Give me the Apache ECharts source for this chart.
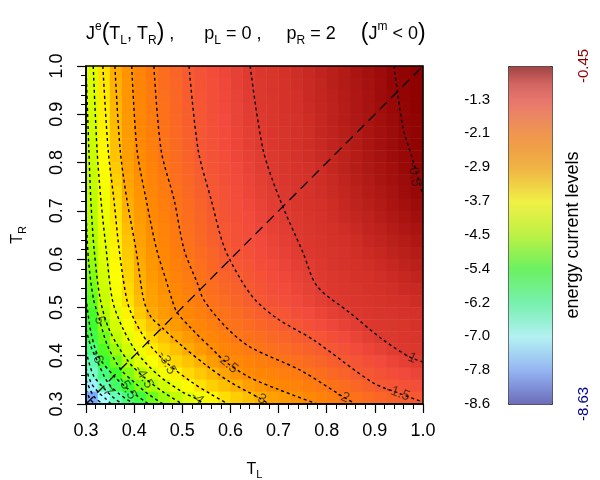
<!DOCTYPE html>
<html>
<head>
<meta charset="utf-8">
<script src="https://cdn.jsdelivr.net/npm/echarts@6/dist/echarts.min.js"></script>
<style>
  html, body { margin: 0; padding: 0; background: #fff; }
  #chart { width: 600px; height: 480px; }
</style>
</head>
<body>
<div id="chart"></div>
<script>
// heat map cell centres: T_L along x, T_R along y (ascending)
const tlCenters = [0.3125, 0.3375, 0.3625, 0.3875, 0.4125, 0.4375, 0.4625, 0.4875, 0.5125, 0.5375,
  0.5625, 0.5875, 0.6125, 0.6375, 0.6625, 0.6875, 0.7125, 0.7375, 0.7625, 0.7875,
  0.8125, 0.8375, 0.8625, 0.8875, 0.9125, 0.9375, 0.9625, 0.9875];
const trCenters = [0.3125, 0.3375, 0.3625, 0.3875, 0.4125, 0.4375, 0.4625, 0.4875, 0.5125, 0.5375,
  0.5625, 0.5875, 0.6125, 0.6375, 0.6625, 0.6875, 0.7125, 0.7375, 0.7625, 0.7875,
  0.8125, 0.8375, 0.8625, 0.8875, 0.9125, 0.9375, 0.9625, 0.9875];

// J^e, one row per T_R, top row (T_R = 0.9875) first
const jeRows = [
  [-4.10, -3.47, -2.98, -2.62, -2.32, -2.05, -1.86, -1.69, -1.52, -1.41, -1.32, -1.22, -1.12, -1.02, -0.97, -0.93, -0.88, -0.84, -0.80, -0.76, -0.72, -0.68, -0.63, -0.59, -0.55, -0.51, -0.48, -0.46],
  [-4.13, -3.50, -3.01, -2.64, -2.34, -2.07, -1.87, -1.71, -1.54, -1.43, -1.33, -1.23, -1.13, -1.03, -0.98, -0.93, -0.89, -0.85, -0.81, -0.77, -0.72, -0.68, -0.64, -0.60, -0.56, -0.51, -0.49, -0.47],
  [-4.16, -3.53, -3.04, -2.66, -2.36, -2.09, -1.89, -1.72, -1.55, -1.44, -1.34, -1.24, -1.15, -1.05, -0.98, -0.94, -0.90, -0.86, -0.81, -0.77, -0.73, -0.69, -0.65, -0.61, -0.56, -0.52, -0.49, -0.47],
  [-4.20, -3.57, -3.07, -2.69, -2.38, -2.12, -1.91, -1.74, -1.57, -1.45, -1.35, -1.26, -1.16, -1.06, -0.99, -0.95, -0.90, -0.86, -0.82, -0.78, -0.74, -0.70, -0.65, -0.61, -0.57, -0.53, -0.50, -0.47],
  [-4.23, -3.60, -3.10, -2.71, -2.39, -2.14, -1.92, -1.76, -1.59, -1.46, -1.36, -1.27, -1.17, -1.07, -1.00, -0.95, -0.91, -0.87, -0.83, -0.79, -0.74, -0.70, -0.66, -0.62, -0.58, -0.54, -0.50, -0.48],
  [-4.26, -3.63, -3.13, -2.73, -2.41, -2.16, -1.94, -1.77, -1.60, -1.47, -1.37, -1.28, -1.19, -1.09, -1.01, -0.96, -0.92, -0.88, -0.84, -0.79, -0.75, -0.71, -0.67, -0.63, -0.59, -0.55, -0.51, -0.48],
  [-4.29, -3.66, -3.16, -2.75, -2.43, -2.18, -1.95, -1.79, -1.62, -1.48, -1.39, -1.29, -1.20, -1.10, -1.02, -0.97, -0.92, -0.88, -0.84, -0.80, -0.76, -0.72, -0.68, -0.63, -0.59, -0.55, -0.51, -0.48],
  [-4.33, -3.71, -3.20, -2.79, -2.47, -2.21, -1.98, -1.82, -1.65, -1.50, -1.40, -1.31, -1.22, -1.13, -1.04, -0.98, -0.93, -0.89, -0.85, -0.81, -0.77, -0.73, -0.69, -0.64, -0.60, -0.56, -0.52, -0.49],
  [-4.36, -3.75, -3.26, -2.84, -2.52, -2.26, -2.03, -1.86, -1.69, -1.54, -1.43, -1.34, -1.25, -1.15, -1.06, -1.00, -0.95, -0.91, -0.87, -0.83, -0.78, -0.74, -0.70, -0.66, -0.62, -0.58, -0.53, -0.50],
  [-4.39, -3.80, -3.32, -2.89, -2.58, -2.31, -2.08, -1.89, -1.73, -1.58, -1.45, -1.36, -1.28, -1.18, -1.09, -1.02, -0.96, -0.92, -0.88, -0.84, -0.80, -0.76, -0.71, -0.67, -0.63, -0.59, -0.55, -0.51],
  [-4.42, -3.85, -3.38, -2.94, -2.63, -2.35, -2.12, -1.93, -1.77, -1.62, -1.48, -1.39, -1.30, -1.21, -1.12, -1.04, -0.98, -0.94, -0.89, -0.85, -0.81, -0.77, -0.73, -0.69, -0.65, -0.61, -0.56, -0.52],
  [-4.46, -3.90, -3.44, -3.00, -2.69, -2.40, -2.17, -1.97, -1.81, -1.66, -1.51, -1.41, -1.33, -1.24, -1.15, -1.06, -1.00, -0.95, -0.91, -0.87, -0.83, -0.79, -0.75, -0.71, -0.67, -0.63, -0.59, -0.55],
  [-4.51, -3.95, -3.49, -3.06, -2.74, -2.46, -2.22, -2.02, -1.85, -1.70, -1.55, -1.43, -1.35, -1.27, -1.18, -1.10, -1.03, -0.98, -0.93, -0.89, -0.85, -0.81, -0.77, -0.74, -0.70, -0.66, -0.62, -0.58],
  [-4.56, -4.00, -3.54, -3.13, -2.80, -2.51, -2.27, -2.06, -1.88, -1.73, -1.58, -1.46, -1.38, -1.30, -1.22, -1.13, -1.06, -1.00, -0.95, -0.91, -0.88, -0.84, -0.80, -0.76, -0.73, -0.69, -0.65, -0.62],
  [-4.61, -4.05, -3.59, -3.19, -2.86, -2.57, -2.32, -2.11, -1.92, -1.77, -1.62, -1.48, -1.40, -1.33, -1.25, -1.17, -1.10, -1.02, -0.97, -0.93, -0.90, -0.86, -0.83, -0.79, -0.76, -0.72, -0.69, -0.65],
  [-4.68, -4.11, -3.64, -3.25, -2.91, -2.63, -2.38, -2.16, -1.97, -1.82, -1.67, -1.52, -1.44, -1.36, -1.28, -1.20, -1.13, -1.05, -0.99, -0.96, -0.92, -0.89, -0.85, -0.82, -0.79, -0.75, -0.72, -0.69],
  [-4.79, -4.17, -3.70, -3.31, -2.96, -2.68, -2.44, -2.23, -2.04, -1.88, -1.73, -1.59, -1.50, -1.42, -1.33, -1.25, -1.18, -1.10, -1.04, -0.99, -0.94, -0.91, -0.88, -0.85, -0.82, -0.79, -0.75, -0.72],
  [-4.90, -4.23, -3.76, -3.36, -3.01, -2.74, -2.51, -2.30, -2.11, -1.94, -1.80, -1.66, -1.57, -1.47, -1.38, -1.30, -1.23, -1.15, -1.08, -1.02, -0.97, -0.93, -0.90, -0.88, -0.85, -0.82, -0.79, -0.76],
  [-5.01, -4.29, -3.82, -3.41, -3.06, -2.80, -2.58, -2.38, -2.19, -2.00, -1.86, -1.74, -1.63, -1.52, -1.43, -1.35, -1.28, -1.20, -1.12, -1.05, -0.99, -0.96, -0.93, -0.90, -0.88, -0.85, -0.82, -0.80],
  [-5.13, -4.37, -3.90, -3.48, -3.12, -2.86, -2.65, -2.45, -2.26, -2.07, -1.93, -1.81, -1.70, -1.58, -1.48, -1.40, -1.33, -1.25, -1.17, -1.09, -1.02, -0.98, -0.96, -0.93, -0.91, -0.88, -0.86, -0.83],
  [-5.30, -4.52, -4.05, -3.63, -3.26, -2.95, -2.74, -2.53, -2.36, -2.19, -2.03, -1.91, -1.81, -1.70, -1.60, -1.49, -1.42, -1.34, -1.27, -1.19, -1.11, -1.04, -0.99, -0.96, -0.94, -0.92, -0.89, -0.87],
  [-5.41, -4.80, -4.21, -3.80, -3.44, -3.17, -2.92, -2.71, -2.50, -2.34, -2.17, -2.00, -1.91, -1.82, -1.72, -1.63, -1.54, -1.45, -1.37, -1.29, -1.22, -1.14, -1.06, -0.99, -0.97, -0.95, -0.93, -0.90],
  [-5.58, -5.03, -4.43, -4.01, -3.64, -3.37, -3.16, -2.94, -2.72, -2.50, -2.34, -2.19, -2.03, -1.93, -1.85, -1.76, -1.68, -1.59, -1.51, -1.42, -1.34, -1.25, -1.17, -1.08, -1.00, -0.98, -0.96, -0.94],
  [-5.97, -5.21, -4.72, -4.25, -3.87, -3.57, -3.35, -3.16, -2.97, -2.74, -2.51, -2.36, -2.23, -2.09, -1.97, -1.88, -1.80, -1.71, -1.63, -1.55, -1.46, -1.38, -1.29, -1.21, -1.12, -1.04, -0.99, -0.97],
  [-6.35, -5.46, -5.01, -4.53, -4.09, -3.80, -3.54, -3.36, -3.19, -3.02, -2.78, -2.53, -2.40, -2.30, -2.19, -2.08, -1.98, -1.88, -1.79, -1.69, -1.59, -1.50, -1.42, -1.34, -1.27, -1.19, -1.11, -1.04],
  [-6.58, -5.96, -5.35, -4.91, -4.52, -4.15, -3.85, -3.60, -3.40, -3.24, -3.08, -2.88, -2.65, -2.46, -2.37, -2.27, -2.17, -2.08, -1.98, -1.87, -1.76, -1.65, -1.53, -1.45, -1.39, -1.32, -1.25, -1.18],
  [-7.14, -6.38, -5.81, -5.37, -4.95, -4.59, -4.26, -3.95, -3.70, -3.47, -3.31, -3.16, -3.00, -2.82, -2.64, -2.48, -2.37, -2.26, -2.15, -2.04, -1.93, -1.83, -1.72, -1.61, -1.50, -1.44, -1.39, -1.33],
  [-7.77, -6.99, -6.41, -5.91, -5.51, -5.03, -4.71, -4.41, -4.12, -3.87, -3.64, -3.44, -3.29, -3.14, -2.99, -2.84, -2.70, -2.56, -2.41, -2.28, -2.14, -2.00, -1.91, -1.82, -1.73, -1.64, -1.55, -1.49]
];

const jeMin = -8.63;
const jeMax = -0.45;
const colorbarTicks = [-8.63, -7.81, -6.99, -6.18, -5.36, -4.54, -3.72, -2.90, -2.08, -1.27];

// contour lines, [T_L, T_R] points
const contourLevels = [-0.5, -1, -1.5, -2, -2.5, -3, -3.5, -4, -4.5, -5, -5.5, -6, -6.5, -7, -7.5, -8, -8.5];
const contourPaths = [
  [[0.940, 1.0], [0.958, 0.874], [0.979, 0.805], [1.0, 0.733]],
  [[0.641, 1.0], [0.668, 0.826], [0.703, 0.723], [0.751, 0.613], [0.780, 0.544], [0.848, 0.489], [0.917, 0.433], [0.973, 0.397], [1.0, 0.387]],
  [[0.514, 1.0], [0.533, 0.826], [0.560, 0.723], [0.587, 0.625], [0.622, 0.557], [0.652, 0.515], [0.70, 0.475], [0.772, 0.433], [0.896, 0.344], [0.948, 0.323], [1.0, 0.304]],
  [[0.441, 1.0], [0.456, 0.826], [0.483, 0.723], [0.504, 0.619], [0.531, 0.551], [0.545, 0.515], [0.59, 0.46], [0.641, 0.418], [0.745, 0.370], [0.834, 0.315], [0.86, 0.30]],
  [[0.395, 1.0], [0.406, 0.826], [0.425, 0.723], [0.447, 0.619], [0.468, 0.551], [0.479, 0.515], [0.489, 0.49], [0.52, 0.455], [0.564, 0.412], [0.593, 0.385], [0.64, 0.355], [0.70, 0.33], [0.78, 0.30]],
  [[0.360, 1.0], [0.371, 0.826], [0.385, 0.723], [0.404, 0.619], [0.420, 0.515], [0.435, 0.48], [0.458, 0.458], [0.50, 0.42], [0.55, 0.38], [0.60, 0.345], [0.661, 0.312], [0.68, 0.30]],
  [[0.335, 1.0], [0.346, 0.826], [0.358, 0.723], [0.369, 0.619], [0.385, 0.515], [0.40, 0.475], [0.428, 0.428], [0.468, 0.385], [0.52, 0.345], [0.56, 0.32], [0.595, 0.30]],
  [[0.315, 1.0], [0.323, 0.826], [0.331, 0.723], [0.342, 0.619], [0.355, 0.515], [0.375, 0.46], [0.406, 0.406], [0.45, 0.36], [0.50, 0.325], [0.531, 0.31], [0.545, 0.30]],
  [[0.300, 1.0], [0.306, 0.826], [0.310, 0.723], [0.317, 0.619], [0.33, 0.515], [0.35, 0.45], [0.388, 0.388], [0.42, 0.356], [0.46, 0.325], [0.50, 0.30]],
  [[0.30, 0.70], [0.305, 0.60], [0.315, 0.52], [0.327, 0.478], [0.345, 0.42], [0.372, 0.372], [0.40, 0.345], [0.43, 0.32], [0.46, 0.30]],
  [[0.30, 0.52], [0.31, 0.45], [0.325, 0.40], [0.358, 0.358], [0.385, 0.333], [0.43, 0.30]],
  [[0.30, 0.455], [0.31, 0.42], [0.323, 0.39], [0.345, 0.345], [0.37, 0.32], [0.40, 0.30]],
  [[0.30, 0.41], [0.315, 0.36], [0.335, 0.335], [0.355, 0.315], [0.375, 0.30]],
  [[0.30, 0.375], [0.31, 0.345], [0.325, 0.325], [0.342, 0.31], [0.352, 0.30]],
  [[0.30, 0.35], [0.316, 0.316], [0.335, 0.30]],
  [[0.30, 0.33], [0.309, 0.309], [0.32, 0.30]],
  [[0.30, 0.306], [0.305, 0.30]]
];

// where the contour labels sit
const labelText = ['-0.5', '-1', '-1.5', '-2', '-2.5', '-3', '-3.5', '-4', '-4.5', '-5', '-5.5', '-6', '-7'];
const labelTL = [0.982, 0.973, 0.948, 0.834, 0.593, 0.661, 0.468, 0.531, 0.420, 0.327, 0.385, 0.323, 0.342];
const labelTR = [0.775, 0.397, 0.323, 0.315, 0.385, 0.312, 0.385, 0.312, 0.356, 0.478, 0.333, 0.397, 0.329];
const labelAngle = [-80, -25, -20, -25, -40, -25, -62, -40, -58, -75, -58, -70, -50];

const diagonal = [[0.3, 0.3], [1.0, 1.0]];

// colour ramp, evenly spread from jeMin to jeMax
const mapColors = ['#3c3ca8', '#5a70d8', '#7aa6ff', '#90d4ff', '#a6ffff', '#78ffcc', '#4dff9a',
  '#44ff60', '#3cff2a', '#78ff15', '#b4ff00', '#dcff00', '#ffff00', '#ffd000', '#ffa500',
  '#ff8c00', '#ff7a10', '#f96428', '#f24a3c', '#d23028', '#8b0000'];
// the colour bar is drawn washed out
function fade(hex, a) {
  const n = parseInt(hex.slice(1), 16);
  return 'rgba(' + (n >> 16) + ',' + ((n >> 8) & 255) + ',' + (n & 255) + ',' + a + ')';
}
const barColors = mapColors.map(c => fade(c, 0.68));

const FONT = 'Liberation Sans';

const heatData = [];
jeRows.forEach((row, r) => {
  row.forEach((v, c) => {
    heatData.push([c, trCenters.length - 1 - r, v]);
  });
});

const contourSeries = contourPaths.map((path, i) => ({
  type: 'line',
  name: String(contourLevels[i]),
  xAxisIndex: 1,
  yAxisIndex: 1,
  data: path,
  smooth: 0.3,
  showSymbol: false,
  silent: true,
  z: 4,
  lineStyle: { color: '#000', width: 1.4, type: [3, 3] }
}));

const labelData = labelText.map((t, i) => ({
  name: t,
  value: [labelTL[i], labelTR[i]],
  label: { rotate: labelAngle[i] }
}));

const plotBox = { left: 86, top: 66, width: 337, height: 338 };

const nameRich = {
  t: { fontSize: 16, lineHeight: 20, color: '#000', fontFamily: FONT },
  s: { fontSize: 11, lineHeight: 14, verticalAlign: 'bottom', color: '#000', fontFamily: FONT }
};

const option = {
  animation: false,
  textStyle: { fontFamily: FONT },
  title: {
    left: 81,
    top: 16,
    text: '{n|J}{sup|e}{p|(}{n|T}{sub|L}{n|, T}{sub|R}{p|)}{n| ,      p}{sub|L}{n| = 0 ,     p}{sub|R}{n| = 2     }{p|(}{n|J}{sup|m}{n| < 0}{p|)}',
    textStyle: {
      fontWeight: 'normal',
      rich: {
        n: { fontSize: 18, lineHeight: 26, color: '#000', fontWeight: 'normal', fontFamily: FONT },
        p: { fontSize: 23, lineHeight: 26, color: '#000', fontWeight: 'normal', fontFamily: FONT },
        sup: { fontSize: 12, lineHeight: 12, verticalAlign: 'top', color: '#000', fontWeight: 'normal', fontFamily: FONT },
        sub: { fontSize: 12, lineHeight: 16, verticalAlign: 'bottom', color: '#000', fontWeight: 'normal', fontFamily: FONT }
      }
    }
  },
  grid: [
    Object.assign({ outerBoundsMode: 'none' }, plotBox),
    Object.assign({ outerBoundsMode: 'none', show: true, borderColor: '#000', borderWidth: 1.5, backgroundColor: 'transparent', z: 6 }, plotBox),
    { outerBoundsMode: 'none', left: 508, top: 66, width: 44, height: 338 }
  ],
  xAxis: [
    { gridIndex: 0, type: 'category', data: tlCenters, show: false },
    {
      gridIndex: 1, type: 'value', min: 0.3, max: 1.0, interval: 0.1, z: 6,
      axisLine: { show: true, onZero: false, lineStyle: { color: '#000', width: 1.5 } },
      axisTick: { show: true, length: 9, lineStyle: { color: '#000', width: 1.2 } },
      minorTick: { show: true, splitNumber: 5, length: 5, lineStyle: { color: '#000', width: 1 } },
      splitLine: { show: false },
      axisLabel: { fontSize: 18, color: '#000', margin: 18, formatter: v => v.toFixed(1) },
      name: '{t|T}{s|L}',
      nameLocation: 'middle',
      nameGap: 56,
      nameMoveOverlap: false,
      nameTextStyle: { rich: nameRich }
    },
    { gridIndex: 2, type: 'value', show: false, min: 0, max: 1 }
  ],
  yAxis: [
    { gridIndex: 0, type: 'category', data: trCenters, show: false },
    {
      gridIndex: 1, type: 'value', min: 0.3, max: 1.0, interval: 0.1, z: 6,
      axisLine: { show: true, onZero: false, lineStyle: { color: '#000', width: 1.5 } },
      axisTick: { show: true, length: 9, lineStyle: { color: '#000', width: 1.2 } },
      minorTick: { show: true, splitNumber: 5, length: 5, lineStyle: { color: '#000', width: 1 } },
      splitLine: { show: false },
      axisLabel: { fontSize: 18, color: '#000', margin: 20, rotate: 90, formatter: v => v.toFixed(1) },
      name: '{t|T}{s|R}',
      nameLocation: 'middle',
      nameGap: 58,
      nameRotate: 90,
      nameMoveOverlap: false,
      nameTextStyle: { rich: nameRich }
    },
    {
      gridIndex: 2, type: 'value', min: jeMin, max: jeMax, position: 'left',
      axisLine: { show: false }, axisTick: { show: false }, splitLine: { show: false },
      axisLabel: { customValues: colorbarTicks, formatter: v => v.toFixed(1), fontSize: 15, color: '#000', margin: 18 }
    },
    {
      gridIndex: 2, type: 'value', min: jeMin, max: jeMax, position: 'right',
      axisLine: { show: false }, axisTick: { show: false }, splitLine: { show: false },
      axisLabel: {
        customValues: [jeMax, jeMin],
        formatter: v => v.toFixed(2),
        rotate: 90,
        fontSize: 15,
        margin: 24,
        color: v => (v > -4 ? '#8b0000' : '#00008b')
      },
      name: 'energy current levels',
      nameLocation: 'middle',
      nameRotate: 90,
      nameGap: 12,
      nameMoveOverlap: false,
      nameTextStyle: { fontSize: 18, color: '#000' }
    }
  ],
  visualMap: [
    {
      type: 'continuous', show: false, seriesIndex: 0,
      min: jeMin, max: jeMax, inRange: { color: mapColors }
    },
    {
      type: 'continuous', show: true, seriesIndex: contourSeries.length + 3,
      min: jeMin, max: jeMax, inRange: { color: barColors },
      left: 508, top: 66, itemWidth: 44, itemHeight: 338,
      calculable: false, showLabel: false, text: null, padding: 0,
      borderColor: '#333', borderWidth: 1, hoverLink: false
    }
  ],
  series: [
    {
      type: 'heatmap',
      xAxisIndex: 0,
      yAxisIndex: 0,
      data: heatData,
      silent: true,
      z: 1,
      emphasis: { disabled: true }
    },
    ...contourSeries,
    {
      type: 'line',
      xAxisIndex: 1,
      yAxisIndex: 1,
      data: diagonal,
      showSymbol: false,
      silent: true,
      z: 4,
      lineStyle: { color: '#000', width: 1.3, type: [10, 6] }
    },
    {
      type: 'scatter',
      xAxisIndex: 1,
      yAxisIndex: 1,
      data: labelData,
      symbolSize: 1,
      silent: true,
      z: 5,
      itemStyle: { color: 'rgba(0,0,0,0)' },
      label: {
        show: true,
        position: 'inside',
        formatter: p => p.name,
        fontSize: 14,
        color: 'rgba(25,18,10,0.85)',
        fontFamily: FONT
      }
    },
    {
      type: 'scatter',
      xAxisIndex: 2,
      yAxisIndex: 2,
      data: [],
      silent: true
    }
  ]
};

const chart = echarts.init(document.getElementById('chart'));
chart.setOption(option);
</script>
</body>
</html>
